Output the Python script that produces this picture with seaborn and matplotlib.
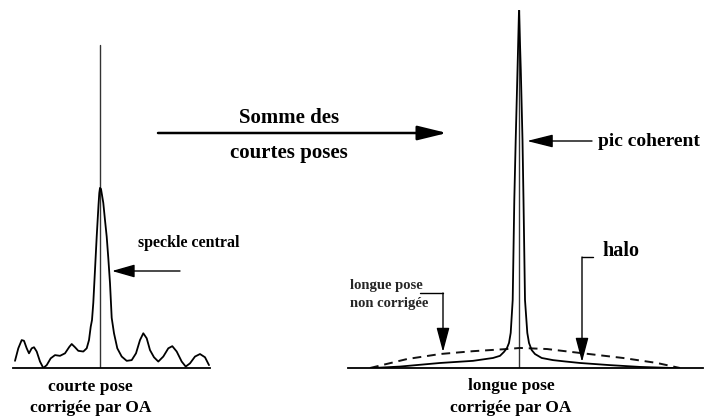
import matplotlib
matplotlib.use("Agg")
import matplotlib.pyplot as plt
import pandas as pd
import seaborn as sns

# Short exposure, AO corrected: angular offset vs normalised intensity
court_pos = [-0.85, -0.817, -0.783, -0.76, -0.733, -0.71, -0.683, -0.66, -0.633, -0.60,
             -0.567, -0.533, -0.493, -0.45, -0.40, -0.35, -0.307, -0.283, -0.25, -0.217,
             -0.167, -0.133, -0.11, -0.093, -0.08, -0.067, -0.05, -0.033, -0.015, -0.007,
             0.0, 0.01, 0.02, 0.033, 0.05, 0.067, 0.083, 0.10, 0.117, 0.14,
             0.173, 0.217, 0.267, 0.317, 0.36, 0.40, 0.433, 0.467, 0.50, 0.54,
             0.583, 0.633, 0.683, 0.723, 0.767, 0.817, 0.857, 0.90, 0.95, 1.00,
             1.05, 1.09]
court_int = [0.020, 0.055, 0.078, 0.076, 0.055, 0.041, 0.055, 0.058, 0.046, 0.018,
             0.0, 0.008, 0.027, 0.036, 0.034, 0.041, 0.059, 0.067, 0.058, 0.048,
             0.046, 0.055, 0.078, 0.115, 0.134, 0.182, 0.274, 0.367, 0.455, 0.489,
             0.503, 0.500, 0.483, 0.461, 0.413, 0.367, 0.307, 0.237, 0.140, 0.097,
             0.055, 0.032, 0.020, 0.022, 0.041, 0.078, 0.097, 0.083, 0.050, 0.030,
             0.018, 0.032, 0.055, 0.061, 0.046, 0.018, 0.004, 0.013, 0.032, 0.039,
             0.030, 0.008]

# Long exposure, AO corrected: coherent peak on top of the halo
longue_pos = [-1.46, -1.19, -0.79, -0.46, -0.26, -0.19, -0.15, -0.12, -0.10, -0.083,
              -0.063, -0.047, -0.033, -0.015, 0.0, 0.018, 0.035, 0.045, 0.06, 0.083,
              0.10, 0.127, 0.16, 0.227, 0.34, 0.47, 0.61, 0.91, 1.21, 1.54]
longue_int = [0.0, 0.004, 0.014, 0.020, 0.028, 0.034, 0.045, 0.056, 0.070, 0.098,
              0.19, 0.469, 0.637, 0.832, 1.0, 0.832, 0.637, 0.469, 0.19, 0.098,
              0.070, 0.050, 0.039, 0.028, 0.022, 0.018, 0.014, 0.008, 0.003, 0.0]

# Long exposure without correction (seeing disc)
seeing_pos = [-1.49, -1.12, -0.79, -0.46, -0.12, 0.01, 0.28, 0.61, 1.04, 1.38, 1.61]
seeing_int = [0.0, 0.025, 0.039, 0.047, 0.053, 0.056, 0.053, 0.042, 0.028, 0.014, 0.0]

court = pd.DataFrame({"pos": court_pos, "intensite": court_int})
longue = pd.DataFrame({"pos": longue_pos, "intensite": longue_int})
seeing = pd.DataFrame({"pos": seeing_pos, "intensite": seeing_int})

sns.set_style("white")
plt.rcParams["font.family"] = ["Liberation Serif", "DejaVu Serif"]

W, H = 704, 419
fig = plt.figure(figsize=(W / 100, H / 100), dpi=100)
fig.patch.set_facecolor("white")


def panel(x0, x1, xlim):
    ax = fig.add_axes([x0 / W, 51 / H, (x1 - x0) / W, 358 / H])
    ax.set_xlim(*xlim)
    ax.set_ylim(0, 1)
    for s in ("top", "right", "left"):
        ax.spines[s].set_visible(False)
    ax.spines["bottom"].set_color("black")
    ax.spines["bottom"].set_linewidth(1.3)
    ax.set_xticks([])
    ax.set_yticks([])
    ax.patch.set_alpha(0)
    return ax


# Left panel: short exposure
axl = panel(13, 210, (-0.87, 1.10))
axl.axvline(0, ymin=0, ymax=0.902, color="#333333", lw=1.0)
sns.lineplot(data=court, x="pos", y="intensite", sort=False, ax=axl,
             color="black", lw=1.3, estimator=None)
axl.lines[-1].set_solid_joinstyle("round")
axl.set_xlabel("")
axl.set_ylabel("")

# Right panel: long exposure
axr = panel(348, 703, (-1.71, 1.84))
axr.axvline(0, ymin=0, ymax=1.0, color="#333333", lw=1.0)
sns.lineplot(data=seeing, x="pos", y="intensite", sort=False, ax=axr,
             color="#111111", lw=1.4, estimator=None)
axr.lines[-1].set_dashes([4.5, 3])
sns.lineplot(data=longue, x="pos", y="intensite", sort=False, ax=axr,
             color="black", lw=1.3, estimator=None)
axr.lines[-1].set_solid_joinstyle("round")
axr.set_xlabel("")
axr.set_ylabel("")

# Overlay in pixel units for labels and arrows
ov = fig.add_axes([0, 0, 1, 1])
ov.set_xlim(0, W)
ov.set_ylim(H, 0)
ov.axis("off")
ov.patch.set_alpha(0)

bold = dict(fontweight="bold", color="black", ha="center", va="center")


def arrow(x0, y0, x1, y1, lw=1.0, hl=0.75, hw=0.22, ms=20):
    ov.annotate("", xy=(x1, y1), xytext=(x0, y0),
                arrowprops=dict(arrowstyle=f"-|>,head_length={hl},head_width={hw}",
                                mutation_scale=ms, lw=lw, color="black",
                                shrinkA=0, shrinkB=0))


# Central arrow
arrow(158, 133, 447, 133, lw=1.8, hl=0.9, hw=0.22)
ov.text(289, 118, "Somme des", fontsize=15, **bold)
ov.text(289, 153, "courtes poses", fontsize=15, **bold)

# Left annotations
ov.text(189, 243, "speckle central", fontsize=11.5, **bold)
arrow(180, 271, 112, 271, lw=1.0, hl=0.7, hw=0.2)
ov.text(90, 387, "courte pose", fontsize=12.5, **bold)
ov.text(91, 408, "corrigée par OA", fontsize=12.5, **bold)

# Right annotations
ov.text(649, 141, "pic coherent", fontsize=14, **bold)
arrow(592, 141, 527, 141, lw=1.0, hl=0.8, hw=0.2)

ov.text(621, 251, "halo", fontsize=14.5, **bold)
ov.plot([582, 593], [257, 257], color="black", lw=1.0)
arrow(582, 257, 582, 362, lw=1.0, hl=0.75, hw=0.2)

ov.text(350, 285, "longue pose", fontsize=10.5, fontweight="bold", ha="left", va="center")
ov.text(350, 303, "non corrigée", fontsize=10.5, fontweight="bold", ha="left", va="center")
ov.plot([420, 443], [293, 293], color="black", lw=1.0)
arrow(443, 293, 443, 352, lw=1.0, hl=0.75, hw=0.2)

ov.text(511, 386, "longue pose", fontsize=12.5, **bold)
ov.text(511, 408, "corrigée par OA", fontsize=12.5, **bold)

fig.savefig("out.png", dpi=100, facecolor="white")
